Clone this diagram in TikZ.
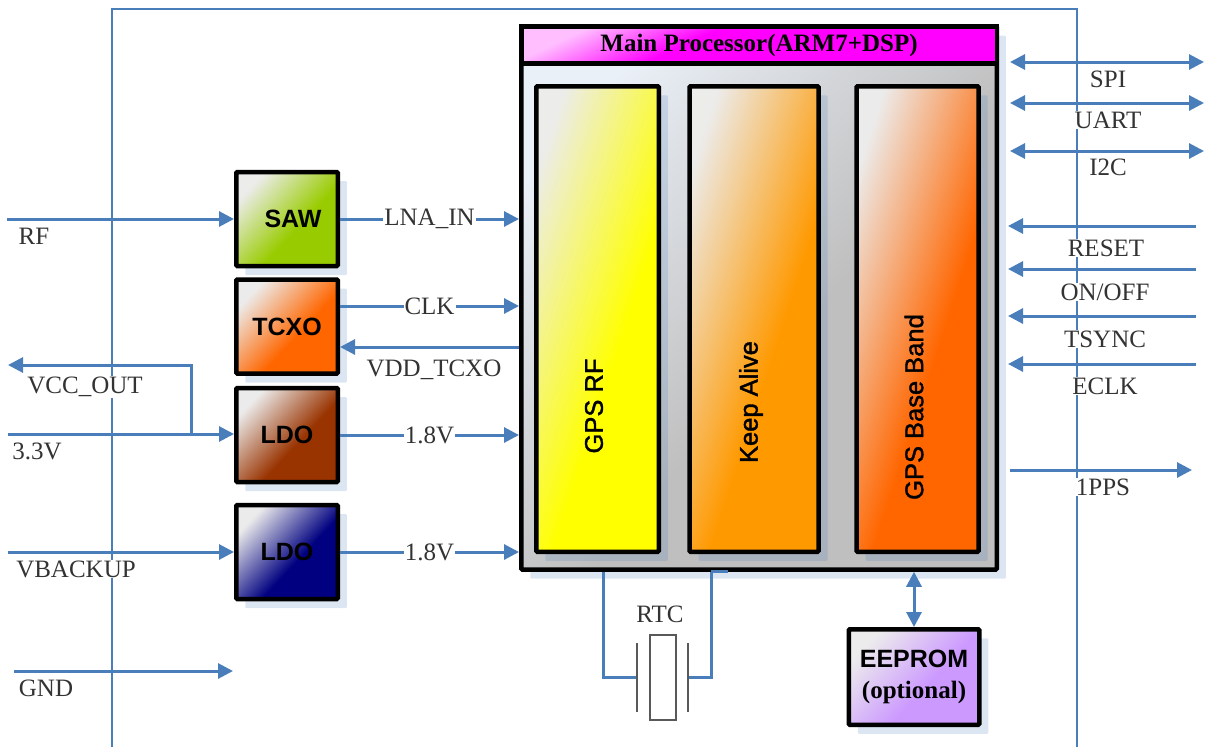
\documentclass[tikz,border=0pt]{standalone}
\usepackage{fontspec}
\setmainfont{Liberation Serif}
\newfontfamily\blockfont{Liberation Sans}
\newfontfamily\turnfont[FakeBold=1.5]{Liberation Sans}
\usepackage{tikz}
\usetikzlibrary{arrows.meta,shadows,shadings}
\definecolor{wireblue}{RGB}{74,126,187}
\definecolor{shadowblue}{RGB}{79,129,189}
\definecolor{labelgray}{RGB}{51,51,51}
\definecolor{sawgreen}{RGB}{153,204,0}
\definecolor{tcxoorange}{RGB}{255,102,0}
\definecolor{ldobrown}{RGB}{153,51,0}
\definecolor{ldonavy}{RGB}{0,0,128}
\definecolor{promlilac}{RGB}{204,153,255}
\definecolor{rfyellow}{RGB}{255,255,0}
\definecolor{aliveorange}{RGB}{255,153,0}
% every block fades from its upper left corner
\newcommand{\defblockfade}[2]{%
  \pgfdeclarehorizontalshading{fade#1}{100bp}{color(0bp)=(#2!8!black!8!white); color(25bp)=(#2!8!black!8!white); color(57bp)=(#2); color(100bp)=(#2)}}
\defblockfade{saw}{sawgreen}
\defblockfade{tcxo}{tcxoorange}
\defblockfade{brown}{ldobrown}
\defblockfade{navy}{ldonavy}
\defblockfade{prom}{promlilac}
\defblockfade{rf}{rfyellow}
\defblockfade{alive}{aliveorange}
\pgfdeclarehorizontalshading{fademain}{100bp}{color(0bp)=(shadowblue!12!white); color(25bp)=(shadowblue!12!white); color(55bp)=(black!25); color(100bp)=(black!25)}
\pgfdeclarehorizontalshading{fadehead}{100bp}{color(0bp)=(magenta!25!white); color(25bp)=(magenta!25!white); color(41bp)=(magenta); color(100bp)=(magenta)}
\begin{document}
\begin{tikzpicture}[x=1pt,y=-1pt,
  wire/.style={draw=wireblue,line width=3pt},
  arr/.style={wire,-{Triangle[length=15pt,width=15pt]}},
  biarr/.style={wire,{Triangle[length=15pt,width=15pt]}-{Triangle[length=15pt,width=15pt]}},
  block/.style={draw=black,line width=4.5pt,rounded corners=1pt,inner sep=0pt,align=center,shading angle=-43,font=\blockfont\bfseries\fontsize{25}{29}\selectfont,
    drop shadow={shadow xshift=9pt,shadow yshift=-9pt,fill=shadowblue,opacity=.2}},
  small/.style={block,minimum width=101.5pt,minimum height=94pt},
  tall/.style={block,minimum height=465.5pt,shading angle=-18},
  tag/.style={fill=white,inner sep=1pt,text=labelgray,font=\fontsize{25}{27}\selectfont},
  turned/.style={rotate=90,font=\turnfont\fontsize{25.5}{27}\selectfont}]
\useasboundingbox (0,0) rectangle (1206,747);
\coordinate (framel) at (112,747);
\coordinate (framer) at (1077,747);
\coordinate (framet) at (1077,9);
\draw[wire,line width=2.5pt] (framel) |- (framet) -- (framer);

\node[block,shading=fademain,shading angle=-41,minimum width=475.5pt,minimum height=543pt] (main) at (759,298) {};
\node[draw=black,line width=4.5pt,shading=fadehead,shading angle=-65,minimum width=475.5pt,minimum height=37pt,inner sep=0pt,font=\bfseries\fontsize{25}{27}\selectfont] (head) at (759,45) {\raisebox{-2pt}{Main Processor(ARM7+DSP)}};
\node[tall,shading=faderf,minimum width=122.5pt] (gpsrf) at (597.5,319) {};
\node[tall,shading=fadealive,minimum width=129pt] (alive) at (754,319) {};
\node[tall,shading=fadetcxo,minimum width=122pt] (base) at (917.5,319) {};
\node[turned] (gpsrftxt) at (594,406) {GPS RF};
\node[turned] (alivetxt) at (751,402) {Keep Alive};
\node[turned] (basetxt) at (914,407) {GPS Base Band};

\node[small,shading=fadesaw] (saw) at (287,219) {\hspace*{12pt}SAW};
\node[small,shading=fadetcxo] (tcxo) at (287,326.5) {TCXO};
\node[small,shading=fadebrown] (ldoa) at (287,435) {LDO};
\node[small,shading=fadenavy] (ldob) at (287,552) {LDO};
\node[small,shading=fadeprom,minimum width=130.5pt,minimum height=95.5pt] (eeprom) at (914,677)
 {EEPROM\\[2pt]{\rmfamily (optional)}};

% left side
\coordinate (rfin) at (7,219);
\coordinate (vccout) at (8,365);
\coordinate (vccin) at (8,434);
\coordinate (vccjoin) at (191,434);
\coordinate (bakin) at (8,552);
\coordinate (gndin) at (14,671);
\coordinate (gndend) at (233,671);
\draw[arr] (rfin) -- (saw.west |- rfin);
\draw[arr] (vccin) -- (ldoa.west |- vccin);
\draw[arr] (vccjoin) |- (vccout);
\draw[arr] (bakin) -- (ldob.west);
\draw[arr] (gndin) -- (gndend);
\node[tag] (rflab) at (34,236) {RF};
\node[tag] (vcclab) at (85,387) {VCC\_OUT};
\node[tag] (vinlab) at (37,451) {3.3V};
\node[tag] (baklab) at (76,569) {VBACKUP};
\node[tag] (gndlab) at (46,688) {GND};

% blocks to processor
\draw[arr] (saw.east) -- node[tag] (lnalab) {LNA\_IN} (main.west |- saw.east);
\draw[arr] (tcxo.east |- 0,306) -- node[tag] (clklab) {CLK} (main.west |- 0,306);
\draw[arr] (main.west |- 0,347) -- (tcxo.east |- 0,347);
\draw[arr] (ldoa.east) -- node[tag] (ldoalab) {1.8V} (main.west |- ldoa.east);
\draw[arr] (ldob.east) -- node[tag] (ldoblab) {1.8V} (main.west |- ldob.east);
\node[tag] (vddlab) at (434,370) {VDD\_TCXO};

% right side
\coordinate (spil) at (1010,62);
\coordinate (spir) at (1204,62);
\coordinate (uartl) at (1010,103);
\coordinate (uartr) at (1204,103);
\coordinate (iicl) at (1010,151);
\coordinate (iicr) at (1204,151);
\coordinate (rstr) at (1196,226);
\coordinate (rstl) at (1008,226);
\coordinate (onr) at (1196,269);
\coordinate (onl) at (1008,269);
\coordinate (syncr) at (1196,316);
\coordinate (syncl) at (1008,316);
\coordinate (eclkr) at (1196,364);
\coordinate (eclkl) at (1008,364);
\coordinate (ppsl) at (1010,470);
\coordinate (ppsr) at (1192,470);
\draw[biarr] (spil) -- (spir);
\draw[biarr] (uartl) -- (uartr);
\draw[biarr] (iicl) -- (iicr);
\draw[arr] (rstr) -- (rstl);
\draw[arr] (onr) -- (onl);
\draw[arr] (syncr) -- (syncl);
\draw[arr] (eclkr) -- (eclkl);
\draw[arr] (ppsl) -- (ppsr);
\node[tag] (spilab) at (1108,79) {SPI};
\node[tag] (uartlab) at (1108,120) {UART};
\node[tag] (iiclab) at (1108,167) {I2C};
\node[tag] (rstlab) at (1106,248) {RESET};
\node[tag] (onlab) at (1105,292) {ON/OFF};
\node[tag] (synclab) at (1105,339) {TSYNC};
\node[tag] (eclklab) at (1105,386) {ECLK};
\node[tag] (ppslab) at (1103,487) {1PPS};

% bottom
\draw[biarr] (eeprom.north) -- (main.south -| eeprom.north);
\node[draw=black!65,line width=2pt,fill=white,minimum width=26pt,minimum height=85pt,inner sep=0pt] (xtal) at (662.5,677) {};
\node[fill=black!65,minimum width=2.5pt,minimum height=69pt,inner sep=0pt] (platel) at (637,677.5) {};
\node[fill=black!65,minimum width=2.5pt,minimum height=69pt,inner sep=0pt] (plater) at (688,677.5) {};
\draw[wire] (main.south -| 603,0) |- (platel.west);
\draw[wire] (main.south -| 711,0) |- (plater.east);
\draw[wire] (main.south -| 711,0) -- (main.south -| 728,0);
\node[tag] (rtclab) at (660,614) {RTC};
\end{tikzpicture}
\end{document}
